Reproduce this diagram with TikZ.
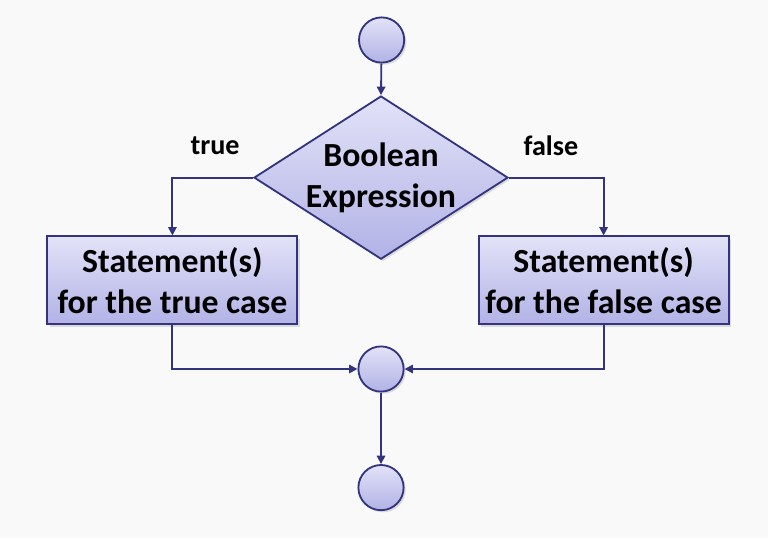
\documentclass[tikz,border=0pt]{standalone}
\usepackage{fontspec}
\setmainfont{Carlito}
\usepackage{tikz}
\usetikzlibrary{calc, positioning, arrows.meta, shapes.geometric, shadows}

\definecolor{edgeblue}{HTML}{34347E}
\definecolor{filltop}{HTML}{E2E2F8}
\definecolor{fillbot}{HTML}{B2B2E6}
\definecolor{paper}{HTML}{F9F9F9}

\begin{document}
\begin{tikzpicture}[
    >={Triangle[length=6pt, width=6pt]},
    line width=1.3pt,
    shade_fill/.style={draw=edgeblue, top color=filltop, bottom color=fillbot,
        drop shadow={shadow xshift=1.5pt, shadow yshift=-1.5pt, opacity=0.25, fill=gray}},
    box/.style={shade_fill, rectangle, minimum width=6.25cm, minimum height=2.2cm, align=center,
        font=\fontsize{24}{29}\selectfont\bfseries},
    decision/.style={shade_fill, diamond, aspect=1.56, minimum width=6.35cm, minimum height=4.08cm,
        inner sep=-5pt, align=center, font=\fontsize{24}{29}\selectfont\bfseries},
    dot/.style={shade_fill, circle, minimum size=1.13cm, inner sep=0pt},
    label_font/.style={font=\fontsize{20}{24}\selectfont\bfseries},
    flow/.style={->, draw=edgeblue}
]

    % Canvas
    \fill[paper] (0,0) rectangle (19.2,-13.45);
    \useasboundingbox (0,0) rectangle (19.2,-13.45);

    % Components
    \node[dot] (start) at (9.54,-1.0) {};
    \node[decision] (cond) at (9.525,-4.44) {Boolean\\Expression};

    % Branches
    \node[box] (tcase) at (4.31,-7.01) {Statement(s)\\for the true case};
    \node[box] (fcase) at (15.09,-7.01) {Statement(s)\\for the false case};

    % Merge and end
    \node[dot] (join) at (9.525,-9.225) {};
    \node[dot] (stop) at (9.525,-12.19) {};

    % Branch labels
    \node[label_font] (tlabel) at ($(cond.west) + (-0.95, 0.8)$) {true};
    \node[label_font] (flabel) at ($(cond.east) + (1.05, 0.8)$) {false};

    % Connections
    \draw[flow] (start) -- (cond.north);
    \draw[flow] (cond.west) -| (tcase.north);
    \draw[flow] (cond.east) -| (fcase.north);
    \draw[flow] (tcase.south) |- (join.west);
    \draw[flow] (fcase.south) |- (join.east);
    \draw[flow] (join) -- (stop);

\end{tikzpicture}
\end{document}
